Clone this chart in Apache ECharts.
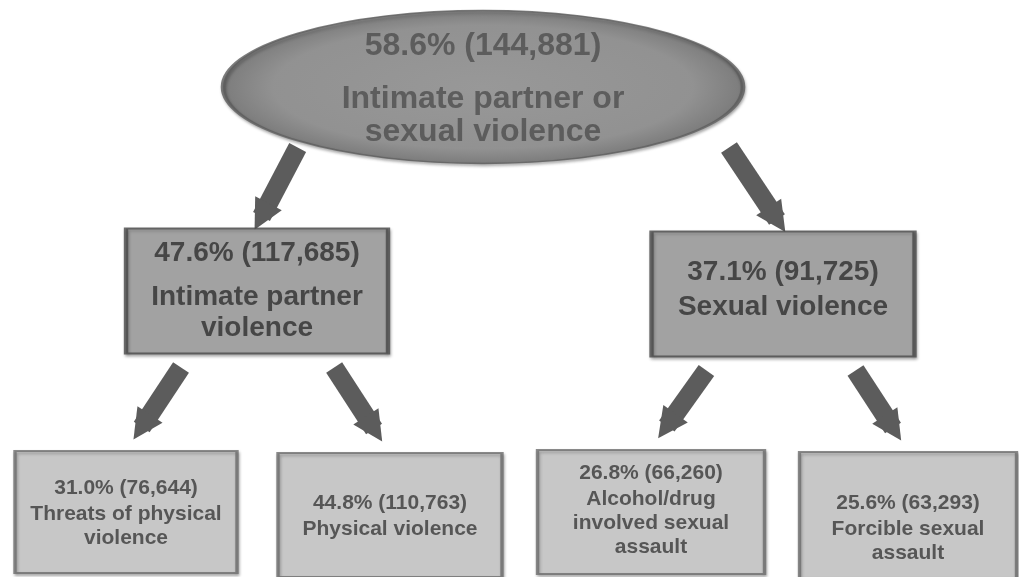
<!DOCTYPE html>
<html>
<head>
<meta charset="utf-8">
<script src="https://cdn.jsdelivr.net/npm/echarts@6/dist/echarts.min.js"></script>
<style>
html,body{margin:0;padding:0;background:#fff;}
#chart{width:1019px;height:577px;}
</style>
</head>
<body>
<div id="chart"></div>
<script>
// ---- data ----
const names = ["Intimate partner or\nsexual violence", "Intimate partner\nviolence", "Sexual violence",
  "Threats of physical\nviolence", "Physical violence", "Alcohol/drug\ninvolved sexual\nassault", "Forcible sexual\nassault"];
const percents = [58.6, 47.6, 37.1, 31.0, 44.8, 26.8, 25.6];
const counts = [144881, 117685, 91725, 76644, 110763, 66260, 63293];
const parents = [-1, 0, 0, 1, 1, 2, 2];

// ---- layout (positions / sizes / styles) ----
const nodeX = [483, 257, 783, 126, 390, 651, 908];
const nodeY = [87, 291, 294, 512, 515, 512, 515];
const nodeW = [520, 262, 263, 222, 224, 227, 217];
const nodeH = [153, 125, 125, 122, 124, 124, 126];
const labelDy = [-8, -7, -6, 0, 0, -3, 12];
const firstLH = [74, 57, 39, 28, 28, 28, 28];
const levelOf = i => (parents[i] < 0 ? 0 : (parents[parents[i]] < 0 ? 1 : 2));
const levelStyle = [
  {symbol: 'circle', fill: '#8a8a8a', border: '#5e5e5e', bw: 2.5, text: '#4f4f4f', size: 32, lh: 33},
  {symbol: 'rect', fill: '#9c9c9c', border: '#4a4a4a', bw: 3, text: '#2f2f2f', size: 28, lh: 31},
  {symbol: 'rect', fill: '#cbcbcb', border: '#6e6e6e', bw: 2.5, text: '#3a3a3a', size: 21, lh: 24}
];
const arrowFrac = [null, [0.82, 0.98], [0.58, 0.88]];

function fmt(i){
  return percents[i].toFixed(1) + '% (' + counts[i].toLocaleString('en-US') + ')';
}

const nodes = names.map((n, i) => {
  const st = levelStyle[levelOf(i)];
  const lines = n.split('\n').map(s => '{n|' + s + '}').join('\n');
  return {
    value: [nodeX[i], nodeY[i]],
    symbol: st.symbol,
    symbolSize: [nodeW[i], nodeH[i]],
    itemStyle: {
      color: levelOf(i) === 0 ? {type: 'radial', x: 0.5, y: 0.5, r: 0.5,
        colorStops: [{offset: 0, color: '#909090'}, {offset: 0.8, color: '#888'}, {offset: 1, color: '#6c6c6c'}]} : st.fill,
      borderColor: st.border, borderWidth: st.bw,
      shadowColor: 'rgba(0,0,0,0.35)', shadowBlur: 3, shadowOffsetX: 1, shadowOffsetY: 2
    },
    label: {
      show: true, position: 'inside', offset: [0, labelDy[i]],
      formatter: '{p|' + fmt(i) + '}\n' + lines,
      rich: {
        p: {fontFamily: 'Liberation Sans', fontWeight: 'bold', fontSize: st.size, color: st.text, lineHeight: firstLH[i], align: 'center'},
        n: {fontFamily: 'Liberation Sans', fontWeight: 'bold', fontSize: st.size, color: st.text, lineHeight: st.lh, align: 'center'}
      }
    }
  };
});

const arrows = [];
parents.forEach((p, c) => {
  if (p < 0) return;
  const lv = levelOf(c);
  const [a, b] = arrowFrac[lv];
  const px = nodeX[p], cx = nodeX[c];
  const tailY = lv === 1 ? nodeY[p] + nodeH[p] / 2 - 16 : nodeY[p] + nodeH[p] / 2 + 14;
  const tipY = nodeY[c] - nodeH[c] / 2 - (lv === 1 ? 12 : 24);
  arrows.push({coords: [[px + a * (cx - px), tailY], [px + b * (cx - px), tipY]]});
});

const chart = echarts.init(document.getElementById('chart'));
chart.setOption({
  backgroundColor: '#fff',
  animation: false,
  grid: {left: 0, right: 0, top: 0, bottom: 0},
  xAxis: {type: 'value', min: 0, max: 1019, show: false},
  yAxis: {type: 'value', min: 0, max: 577, inverse: true, show: false},
  series: [
    {
      type: 'lines', coordinateSystem: 'cartesian2d', z: 1,
      symbol: ['none', 'triangle'], symbolSize: [38, 30],
      lineStyle: {color: '#5c5c5c', width: 19, opacity: 1, cap: 'butt'},
      data: arrows
    },
    {
      type: 'scatter', z: 2,
      data: nodes
    }
  ]
});
</script>
</body>
</html>
